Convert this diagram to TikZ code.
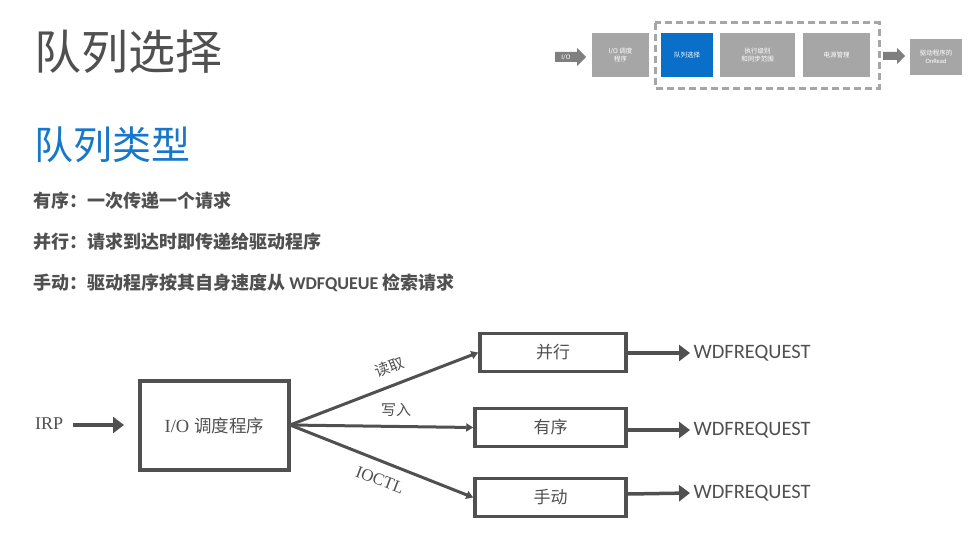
\documentclass[tikz,border=0pt]{standalone}
\usepackage{fontspec}
\setmainfont{Liberation Serif}
\newfontfamily\cjk{Noto Sans CJK SC}
\newfontfamily\latinsans{Carlito}
\usetikzlibrary{arrows.meta}
\definecolor{dgray}{HTML}{505050}
\definecolor{lgray}{HTML}{A6A6A6}
\definecolor{mgray}{HTML}{7F7F7F}
\definecolor{bblue}{HTML}{0A6FC8}
\definecolor{tblue}{HTML}{1777C9}
\tikzset{
  crumb/.style={fill=lgray, text=white, align=center, inner sep=0pt,
    font=\cjk\fontsize{6.5}{8}\selectfont},
  qbox/.style={draw=dgray, line width=3.5pt, minimum height=38pt,
    inner sep=0pt, text=dgray, font=\cjk\fontsize{17}{20}\selectfont},
  bigarrow/.style={draw=dgray, line width=3.5pt, -{Triangle[length=11pt,width=16pt]}},
  fanarrow/.style={draw=dgray, line width=3pt, -{Triangle[length=7pt,width=8pt]}},
  wdf/.style={anchor=west, text=dgray, font=\latinsans\fontsize{20.5}{24}\selectfont},
  bullet/.style={anchor=west, text=dgray, font=\cjk\bfseries\fontsize{18}{22}\selectfont},
  flab/.style={text=dgray, font=\cjk\fontsize{15}{18}\selectfont}
}
\begin{document}
\begin{tikzpicture}[x=1pt,y=-1pt]
\useasboundingbox (0,0) rectangle (979,551);
\fill[white] (0,0) rectangle (979,551);

% titles
\node[anchor=west, inner sep=0pt, text=dgray, font=\cjk\fontsize{47}{50}\selectfont] (title) at (34,52) {队列选择};
\node[anchor=west, inner sep=0pt, text=tblue, font=\cjk\fontsize{39}{42}\selectfont] (sub) at (34,145) {队列类型};

\node[bullet, inner sep=0pt] (b1) at (33,201) {有序：一次传递一个请求};
\node[bullet, inner sep=0pt] (b2) at (33,242) {并行：请求到达时即传递给驱动程序};
\node[bullet, inner sep=0pt] (b3) at (33,283) {手动：驱动程序按其自身速度从 {\latinsans\bfseries WDFQUEUE} 检索请求};

% breadcrumb
\fill[mgray] (555,52) -- (577,52) -- (577,48) -- (586,57) -- (577,66) -- (577,62) -- (555,62) -- cycle;
\node[text=white, inner sep=0pt, font=\latinsans\fontsize{7}{8}\selectfont] (ioarr) at (566,57) {I/O};
\node[crumb, minimum width=57pt, minimum height=44pt] (disp) at (620.5,55) {I/O 调度\\程序};
\draw[lgray, line width=3pt, dash pattern=on 7pt off 4pt] (655,23) rectangle (879,88);
\node[crumb, fill=bblue, minimum width=52pt, minimum height=44pt] (qsel) at (687,55) {队列选择};
\node[crumb, minimum width=75pt, minimum height=44pt] (exec) at (757.5,55) {执行级别\\和同步范围};
\node[crumb, minimum width=67pt, minimum height=44pt] (power) at (836.5,55) {电源管理};
\fill[mgray] (883,52) -- (897,52) -- (897,48) -- (905,56) -- (897,64) -- (897,60) -- (883,60) -- cycle;
\node[crumb, minimum width=52pt, minimum height=36pt] (onread) at (936,57) {驱动程序的\\{\latinsans OnRead}};

% diagram
\node[anchor=west, inner sep=0pt, text=dgray, font=\fontsize{18}{20}\selectfont] (irp) at (35,424) {IRP};
\node[draw=dgray, line width=3.5pt, minimum width=149pt, minimum height=89pt, inner sep=0pt,
  text=dgray] (io) at (214.5,425.5) {{\fontsize{18.5}{20}\selectfont I/O}\hspace{5pt}{\cjk\fontsize{17.5}{20}\selectfont 调度程序}};
\coordinate (irpstart) at (73,425);
\coordinate (irpend) at (124,425);
\draw[bigarrow] (irpstart) -- (irpend);

\node[qbox, minimum width=146pt] (par) at (553,352.5) {并行};
\node[qbox, minimum width=151pt] (ord) at (550.5,427.5) {有序};
\node[qbox, minimum width=151pt] (man) at (550.5,497.5) {手动};

\coordinate (fan) at (290,425);
\draw[fanarrow] (fan) -- (par.west);
\draw[fanarrow] (fan) -- (ord.west);
\draw[fanarrow] (fan) -- (man.west);

\node[flab, rotate=21] (l1) at (389,367) {读取};
\node[flab] (l2) at (396,410) {写入};
\node[text=dgray, inner sep=1pt, font=\fontsize{17}{20}\selectfont, rotate=-21] (l3) at (380,480) {IOCTL};

\node[wdf] (w1) at (690,353) {WDFREQUEST};
\node[wdf] (w2) at (690,430) {WDFREQUEST};
\node[wdf] (w3) at (690,493) {WDFREQUEST};
\draw[bigarrow] (par.east |- 0,353) -- (w1.west);
\draw[bigarrow] (ord.east |- 0,430) -- (w2.west);
\draw[bigarrow] (man.east |- 0,494) -- (w3.west);
\end{tikzpicture}
\end{document}
